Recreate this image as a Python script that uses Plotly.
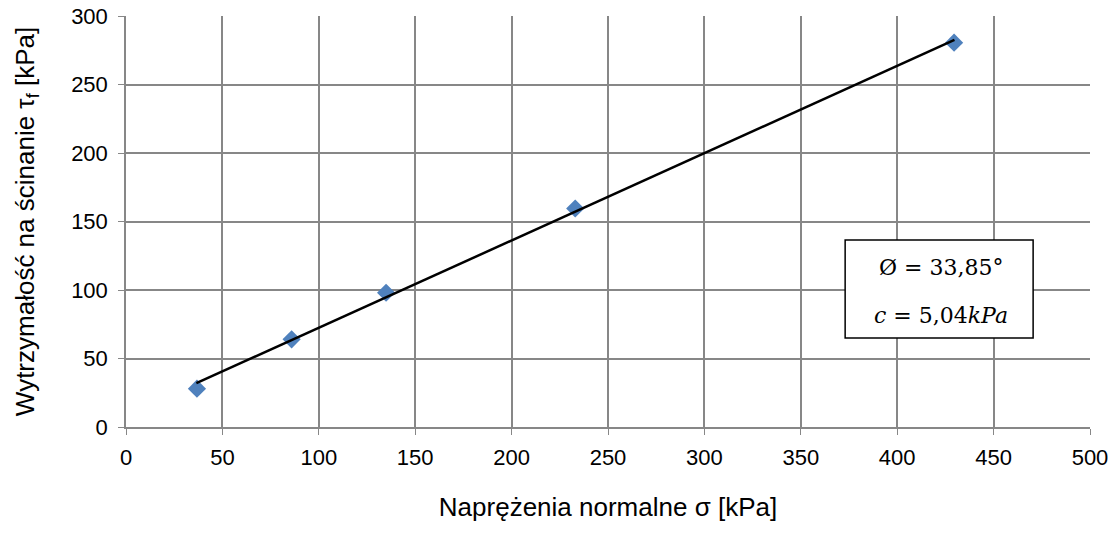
import plotly.graph_objects as go

# Data
sigma = [36.8, 85.9, 134.9, 233.0, 429.5]
tau = [28.0, 64.0, 98.0, 159.5, 280.5]
fit_x = [36.5, 429.7]
fit_y = [32.0, 282.5]
x_ticks = [0, 50, 100, 150, 200, 250, 300, 350, 400, 450, 500]
y_ticks = [0, 50, 100, 150, 200, 250, 300]
box_lines = ["Ø = 33,85°", "<i>c</i> = 5,04<i>kPa</i>"]

grid_col = "#878787"

fig = go.Figure()
fig.add_trace(go.Scatter(
    x=sigma, y=tau, mode="markers",
    marker=dict(symbol="diamond", size=14, color="#4F81BD"),
    showlegend=False, cliponaxis=False))
fig.add_trace(go.Scatter(
    x=fit_x, y=fit_y, mode="lines",
    line=dict(color="black", width=2.5),
    showlegend=False))

fig.update_layout(
    width=1111, height=535,
    margin=dict(l=126, r=21, t=16, b=108),
    paper_bgcolor="white", plot_bgcolor="white",
    font=dict(family="Liberation Sans, Arial", size=22, color="black"),
    xaxis=dict(range=[0, 500], tickvals=x_ticks, showgrid=True,
               gridcolor=grid_col, gridwidth=1.5, showline=True,
               linecolor=grid_col, linewidth=1.5, ticks="outside",
               ticklen=6, tickcolor=grid_col, zeroline=False,
               ticklabelstandoff=4, automargin=False,
               title=dict(text="Naprężenia normalne σ [kPa]",
                          font=dict(size=26), standoff=29)),
    yaxis=dict(range=[0, 300], tickvals=y_ticks, showgrid=True,
               gridcolor=grid_col, gridwidth=1.5, showline=True,
               linecolor=grid_col, linewidth=1.5, ticks="outside",
               ticklen=6, tickcolor=grid_col, zeroline=False,
               ticklabelstandoff=6, automargin=False,
               title=dict(text="Wytrzymałość na ścinanie τ<sub>f</sub> [kPa]",
                          font=dict(size=26), standoff=29)),
)

fig.add_shape(type="rect", xref="paper", yref="paper",
              x0=0.746, x1=0.941, y0=0.2165, y1=0.455,
              line=dict(color="black", width=1.5), fillcolor="white",
              layer="above")
for txt, yy in zip(box_lines, [0.387, 0.2725]):
    fig.add_annotation(
        xref="paper", yref="paper", x=0.845, y=yy,
        xanchor="center", yanchor="middle",
        text=txt, showarrow=False,
        font=dict(family="DejaVu Serif, Liberation Serif", size=22, color="black"))

fig.write_html("out.html", config={"displayModeBar": False},
               post_script="document.body.style.margin='0px';")
